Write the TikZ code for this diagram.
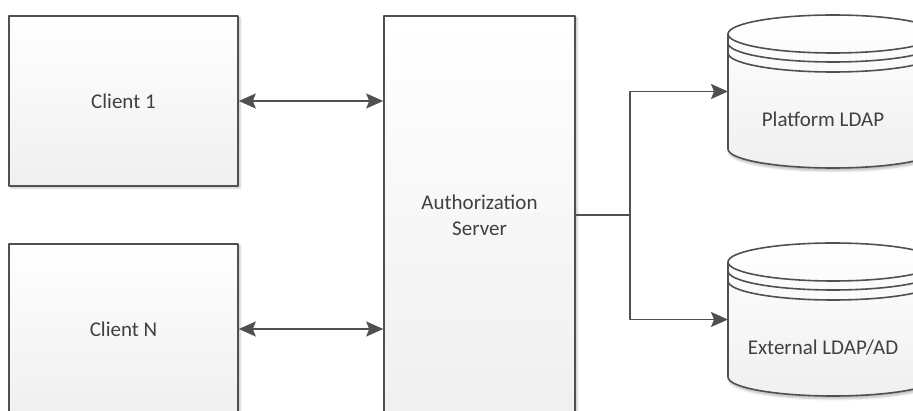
\documentclass[tikz,border=0pt]{standalone}
\usepackage{fontspec}
\setmainfont{Carlito}
\usetikzlibrary{arrows.meta,shadows.blur}
\definecolor{edge}{HTML}{505050}
\definecolor{ink}{HTML}{404040}
\begin{document}
\begin{tikzpicture}[x=1pt,y=1pt,line join=round,
    txt/.style={text=ink,align=center,inner sep=0pt,font=\fontsize{21}{26}\selectfont},
    box/.style={txt,draw=edge,line width=1.6pt,top color=white,bottom color=gray!12,
      blur shadow={shadow xshift=2pt,shadow yshift=-2pt,shadow opacity=25,shadow blur radius=2pt}},
    dbbody/.style={inner sep=0pt,outer sep=0pt,minimum width=210,minimum height=115},
    dbfill/.style={draw=edge,line width=1.6pt,top color=white,bottom color=gray!12,
      blur shadow={shadow xshift=1pt,shadow yshift=-3pt,shadow opacity=25,shadow blur radius=2pt}},
    wire/.style={draw=edge,line width=1.6pt},
    tip/.style={wire,-{Stealth[length=17pt,width=15pt,inset=3pt]}},
    both/.style={wire,{Stealth[length=17pt,width=15pt,inset=3pt]}-{Stealth[length=17pt,width=15pt,inset=3pt]}}]
  \clip (0,0) rectangle (913,410);
  \node (client1) [box,minimum width=229,minimum height=170] at (123.5,309) {Client 1};
  \node (clientN) [box,minimum width=229,minimum height=170] at (123.5,81) {Client N};
  \node (auth) [box,minimum width=191,minimum height=398] at (479.5,195) {Authorization\\Server};
  \node (plat) [dbbody] at (833,318.5) {};
  \node (ext) [dbbody] at (833,90.5) {};
  \foreach \db in {plat,ext} {
    \path[dbfill] (\db.north west) -- (\db.south west)
      arc[start angle=180,end angle=360,x radius=105,y radius=19] -- (\db.north east)
      arc[start angle=0,end angle=180,x radius=105,y radius=19] -- cycle;
    \draw[wire]
      (\db.north west) arc[start angle=180,end angle=360,x radius=105,y radius=19]
      ([yshift=-9pt]\db.north west) arc[start angle=180,end angle=360,x radius=105,y radius=19]
      ([yshift=-19pt]\db.north west) arc[start angle=180,end angle=360,x radius=105,y radius=19];
  }
  \node (platlbl) [txt] at ([shift={(-10,-28)}]plat.center) {Platform LDAP};
  \node (extlbl) [txt] at ([shift={(-10,-28)}]ext.center) {External LDAP/AD};
  \coordinate (hub) at (auth.east -| 630,0);
  \draw[both] (client1) -- (client1 -| auth.west);
  \draw[both] (clientN) -- (clientN -| auth.west);
  \draw[wire] (auth.east) -- (hub);
  \draw[tip] (hub) |- (plat.west);
  \draw[tip] (hub) |- (ext.west);
\end{tikzpicture}
\end{document}
